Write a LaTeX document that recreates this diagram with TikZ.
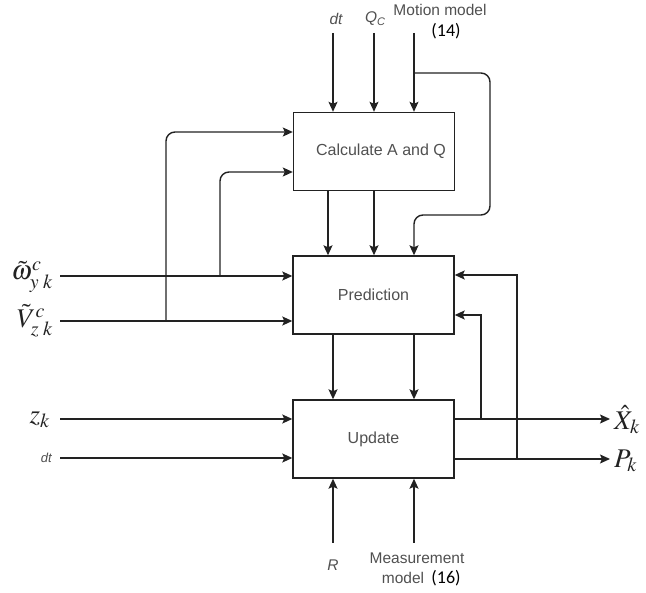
\documentclass[tikz,border=0pt]{standalone}
\usepackage{mathptmx}
\usepackage{fontspec}
\setsansfont{Liberation Sans}
\newfontfamily\calib{Carlito}
\usetikzlibrary{arrows.meta}
\definecolor{ln}{HTML}{222222}
\definecolor{tx}{HTML}{505050}
\begin{document}
\begin{tikzpicture}[x=1pt,y=-1pt,
  blk/.style={draw=ln,line width=1.4pt,minimum width=161pt,minimum height=78pt,inner sep=0pt,font=\sffamily\fontsize{16}{18}\selectfont,text=tx},
  wire/.style={draw=ln,line width=1.4pt},
  arr/.style={wire,-{Stealth[length=10pt,width=9pt,inset=2pt]}},
  lbl/.style={inner sep=0pt,font=\sffamily\fontsize{15.5}{18}\selectfont,text=tx},
  num/.style={inner sep=0pt,font=\calib\fontsize{18}{20}\selectfont,text=black},
  mlbl/.style={inner sep=0pt,font=\fontsize{27}{30}\selectfont,text=ln}]
\useasboundingbox (0,0) rectangle (646,593);
\node[blk] (calc) at (374,151.5) {\hspace*{14pt}Calculate A and Q};
\node[blk] (pred) at (373.5,295) {Prediction};
\node[blk] (upd) at (373.5,439) {Update};
% top inputs
\node[lbl] (tdt) at (336,19) {\itshape dt};
\node[lbl] (tq) at (375,19) {\itshape Q\raisebox{-0.4ex}{\fontsize{11}{12}\selectfont C}};
\node[lbl] (tmm) at (440,10) {Motion model};
\node[num] (t14) at (446,31) {(14)};
\coordinate (sdt) at (333,33);
\coordinate (sq) at (374,33);
\coordinate (smm) at (414,33);
\draw[arr] (sdt) -- (sdt |- calc.north);
\draw[arr] (sq) -- (sq |- calc.north);
\draw[arr] (smm) -- (smm |- calc.north);
\coordinate (mmb) at (414,73);
\draw[arr,rounded corners=9pt] (mmb) -- (490,73) -- (490,215) -- (414,215) -- (414,0 |- pred.north);
% calc -> pred
\draw[arr] (328,0 |- calc.south) -- (328,0 |- pred.north);
\draw[arr] (374,0 |- calc.south) -- (374,0 |- pred.north);
% pred -> upd
\draw[arr] (333,0 |- pred.south) -- (333,0 |- upd.north);
\draw[arr] (414,0 |- pred.south) -- (414,0 |- upd.north);
% left inputs
\node[mlbl,anchor=east] (lw) at (53,277) {$\tilde\omega^{c}_{y\;k}$};
\node[mlbl,anchor=east] (lv) at (53,321) {$\tilde V^{c}_{z\;k}$};
\node[mlbl,anchor=east] (lz) at (50,420) {$z_{k}$};
\node[lbl,anchor=east,font=\sffamily\fontsize{13}{14}\selectfont\itshape] (ldt) at (52,458) {dt};
\coordinate (sw) at (60,276);
\coordinate (sv) at (60,321);
\coordinate (sz) at (60,419);
\coordinate (sd) at (60,458);
\draw[arr] (sw) -- (sw -| pred.west);
\draw[arr] (sv) -- (sv -| pred.west);
\draw[arr] (sz) -- (sz -| upd.west);
\draw[arr] (sd) -- (sd -| upd.west);
\coordinate (jv) at (166,321);
\coordinate (jw) at (220,276);
\draw[arr,rounded corners=9pt] (jv) -- (166,132) -- (166,132 -| calc.west);
\draw[arr,rounded corners=9pt] (jw) -- (220,172) -- (220,172 -| calc.west);
% outputs
\node[mlbl,anchor=west] (ox) at (614,420) {$\hat X_{k}$};
\node[mlbl,anchor=west] (op) at (614,461) {$P_{k}$};
\coordinate (ex) at (610,419);
\coordinate (ep) at (610,459);
\draw[arr] (upd.east |- ex) -- (ex);
\draw[arr] (upd.east |- ep) -- (ep);
\coordinate (fx) at (481,419);
\coordinate (fp) at (517,459);
\draw[arr] (fx) -- (481,315) -- (481,315 -| pred.east);
\draw[arr] (fp) -- (517,275) -- (517,275 -| pred.east);
% bottom inputs
\coordinate (br) at (333,543);
\coordinate (bm) at (414,543);
\draw[arr] (br) -- (br |- upd.south);
\draw[arr] (bm) -- (bm |- upd.south);
\node[lbl] (lr) at (333,565) {\itshape R};
\node[lbl] (lm) at (417,558) {Measurement};
\node[lbl] (lm2) at (403,578) {model};
\node[num] (l16) at (446,578) {(16)};
\end{tikzpicture}
\end{document}
